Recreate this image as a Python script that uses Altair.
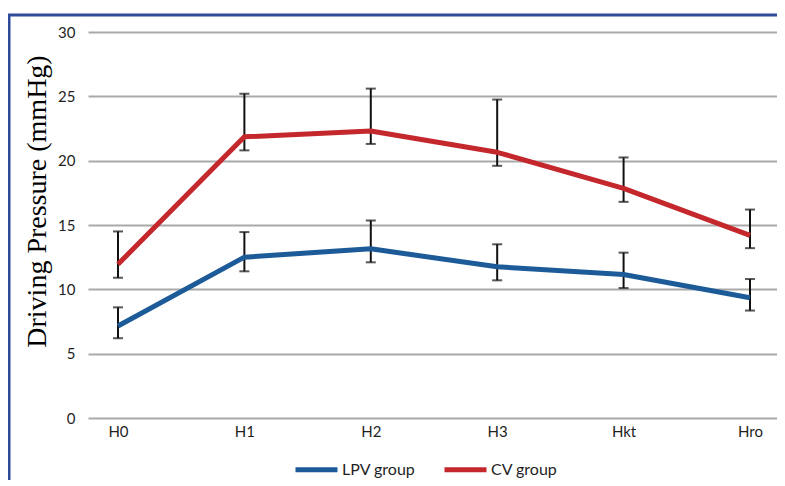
import altair as alt
import pandas as pd

categories = ["H0", "H1", "H2", "H3", "Hkt", "Hro"]
groups = ["LPV group", "CV group"]

lpv_mean = [7.15, 12.5, 13.15, 11.75, 11.15, 9.35]
lpv_low = [6.2, 11.4, 12.1, 10.7, 10.1, 8.35]
lpv_high = [8.6, 14.45, 15.35, 13.5, 12.85, 10.8]

cv_mean = [11.95, 21.85, 22.3, 20.65, 17.85, 14.2]
cv_low = [10.9, 20.8, 21.3, 19.6, 16.8, 13.2]
cv_high = [14.5, 25.2, 25.6, 24.75, 20.25, 16.2]

y_ticks = [0, 5, 10, 15, 20, 25, 30]

rows = []
for g, m, lo, hi in [(groups[0], lpv_mean, lpv_low, lpv_high), (groups[1], cv_mean, cv_low, cv_high)]:
    for c, mv, lv, hv in zip(categories, m, lo, hi):
        rows.append({"time": c, "group": g, "mean": mv, "low": lv, "high": hv})
df = pd.DataFrame(rows)

BLUE = "#1C5A98"
RED = "#C4282C"
FONT = "Lato"

x_scale = alt.Scale(type="point", padding=0.2255, align=0.526)

x_enc = alt.X(
    "time:N",
    sort=categories,
    scale=x_scale,
    axis=alt.Axis(
        title=None, labelAngle=0, labelAlign="center", ticks=False, domain=False, grid=False,
        labelFont=FONT, labelFontSize=15, labelColor="#1F1F1F", labelPadding=13,
    ),
)

y_scale = alt.Scale(domain=[0, 30], nice=False, zero=True)

base = alt.Chart(df)

lines = base.mark_line(strokeWidth=5, strokeJoin="round").encode(
    x=x_enc,
    y=alt.Y(
        "mean:Q",
        scale=y_scale,
        axis=alt.Axis(
            values=y_ticks, ticks=False, domain=False, grid=True,
            gridColor="#A9A9A9", gridWidth=2,
            labelFont=FONT, labelFontSize=15, labelColor="#1F1F1F", labelPadding=13,
            title="Driving Pressure (mmHg)", titleFont="Liberation Serif",
            titleFontSize=28, titleFontWeight="normal", titleColor="#000000",
            titleAngle=270, titleX=-43, titleY=169, titleAlign="center",
            titleBaseline="alphabetic",
        ),
    ),
    color=alt.Color(
        "group:N",
        scale=alt.Scale(domain=groups, range=[BLUE, RED]),
        legend=alt.Legend(
            title=None, orient="none", direction="horizontal",
            legendX=205, legendY=414, padding=0,
            symbolType="stroke", symbolStrokeWidth=5, symbolSize=1764,
            labelFont=FONT, labelFontSize=16, labelColor="#1F1F1F",
            labelOffset=2, columnPadding=18,
        ),
    ),
    detail="group:N",
)

rules = base.mark_rule(color="#111111", strokeWidth=2).encode(
    x=alt.X("time:N", sort=categories, scale=x_scale),
    y=alt.Y("low:Q", scale=y_scale),
    y2="high:Q",
)
cap_lo = base.mark_tick(color="#111111", thickness=2, size=10).encode(
    x=alt.X("time:N", sort=categories, scale=x_scale),
    y=alt.Y("low:Q", scale=y_scale),
)
cap_hi = base.mark_tick(color="#111111", thickness=2, size=10).encode(
    x=alt.X("time:N", sort=categories, scale=x_scale),
    y=alt.Y("high:Q", scale=y_scale),
)

frame_df = pd.DataFrame({"k": [0]})
frame_left = alt.Chart(frame_df).mark_rule(color="#2D4B9A", strokeWidth=3).encode(
    x=alt.value(-79), y=alt.value(-17), y2=alt.value(460),
)
frame_top = alt.Chart(frame_df).mark_rule(color="#2D4B9A", strokeWidth=3).encode(
    x=alt.value(-80), x2=alt.value(700), y=alt.value(-17),
)

chart = alt.layer(rules, cap_lo, cap_hi, lines, frame_left, frame_top).properties(
    width=689,
    height=386,
    autosize=alt.AutoSizeParams(type="none"),
    padding={"left": 80, "top": 24, "right": 0, "bottom": 62},
    background="white",
).configure_view(stroke=None)

chart.save("out.html", embed_options={"renderer": "svg", "actions": False})
